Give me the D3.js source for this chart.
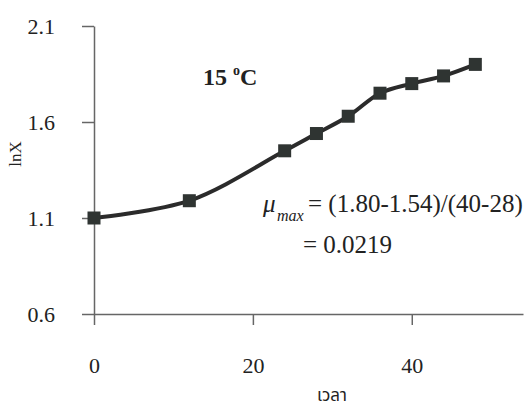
<!DOCTYPE html>
<html>
<head>
<meta charset="utf-8">
<script src="https://cdn.jsdelivr.net/npm/d3@7"></script>
<style>
  body { margin: 0; background: #fff; }
  svg { display: block; }
  text { font-family: "Liberation Serif", "Times New Roman", serif; fill: #222; }
</style>
</head>
<body>
<svg width="526" height="411"></svg>
<script>
// time (h) and lnX
const TIMES = [0, 12, 24, 28, 32, 36, 40, 44, 48];
const LNX = [1.10, 1.19, 1.45, 1.54, 1.63, 1.75, 1.80, 1.84, 1.90];
const X_TICKS = [0, 20, 40];
const Y_TICKS = [0.6, 1.1, 1.6, 2.1];

const svg = d3.select('svg');

const xScale = d3.scaleLinear().domain([0, 54]).range([94, 523]);
const yScale = d3.scaleLinear().domain([0.6, 2.1]).range([314, 26]);

// y axis
const yAxis = svg.append('g')
    .attr('transform', 'translate(94,0)')
    .call(d3.axisLeft(yScale).tickValues(Y_TICKS).tickFormat(d3.format('.1f'))
        .tickSize(12).tickSizeOuter(0).tickPadding(27));
yAxis.selectAll('path, line').attr('stroke', '#666').attr('stroke-width', 1.5);
yAxis.selectAll('text')
    .style('font-family', '"Liberation Serif", serif')
    .style('font-size', '22px').attr('fill', '#222');

// x axis
const xAxis = svg.append('g')
    .attr('transform', 'translate(0,314)')
    .call(d3.axisBottom(xScale).tickValues(X_TICKS).tickSize(11).tickSizeOuter(0));
xAxis.selectAll('path, line').attr('stroke', '#666').attr('stroke-width', 1.5);
xAxis.selectAll('text')
    .style('font-family', '"Liberation Serif", serif')
    .style('font-size', '22px').attr('fill', '#222')
    .attr('y', 59).attr('dy', 0);

// smooth curve through the points
const line = d3.line()
    .x((d, i) => xScale(TIMES[i]))
    .y(d => yScale(d))
    .curve(d3.curveCatmullRom.alpha(0.5));

svg.append('path')
    .datum(LNX)
    .attr('d', line)
    .attr('fill', 'none')
    .attr('stroke', '#2b2b2b')
    .attr('stroke-width', 4);

svg.selectAll('.pt')
    .data(LNX)
    .enter()
    .append('rect')
    .classed('pt', true)
    .attr('width', 13)
    .attr('height', 13)
    .attr('x', (d, i) => xScale(TIMES[i]) - 6.5)
    .attr('y', d => yScale(d) - 6.5)
    .attr('fill', '#2f3432');

// axis titles
svg.append('text')
    .attr('transform', 'translate(21,154) rotate(-90)')
    .attr('text-anchor', 'middle')
    .style('font-size', '17px')
    .text('lnX');

svg.append('text')
    .attr('x', 332).attr('y', 401)
    .attr('text-anchor', 'middle')
    .style('font-family', '"Noto Sans Thai", "Noto Sans", "DejaVu Sans", sans-serif')
    .style('font-size', '17px')
    .text('เวลา');

// temperature label
const temp = svg.append('text')
    .attr('x', 203).attr('y', 85)
    .style('font-size', '24px').style('font-weight', 'bold');
temp.append('tspan').text('15 ');
temp.append('tspan').text('o').style('font-size', '14px').attr('dy', -10);
temp.append('tspan').text('C').attr('dy', 10);

// mu max annotation
svg.append('text')
    .attr('x', 263).attr('y', 212)
    .style('font-size', '25px').style('font-style', 'italic')
    .text('μ');
svg.append('text')
    .attr('x', 277).attr('y', 221)
    .style('font-size', '16px').style('font-style', 'italic')
    .text('max');
svg.append('text')
    .attr('x', 308).attr('y', 212)
    .style('font-size', '25px')
    .text('= (1.80-1.54)/(40-28)');
svg.append('text')
    .attr('x', 303).attr('y', 253)
    .style('font-size', '25px')
    .text('= 0.0219');
</script>
</body>
</html>
